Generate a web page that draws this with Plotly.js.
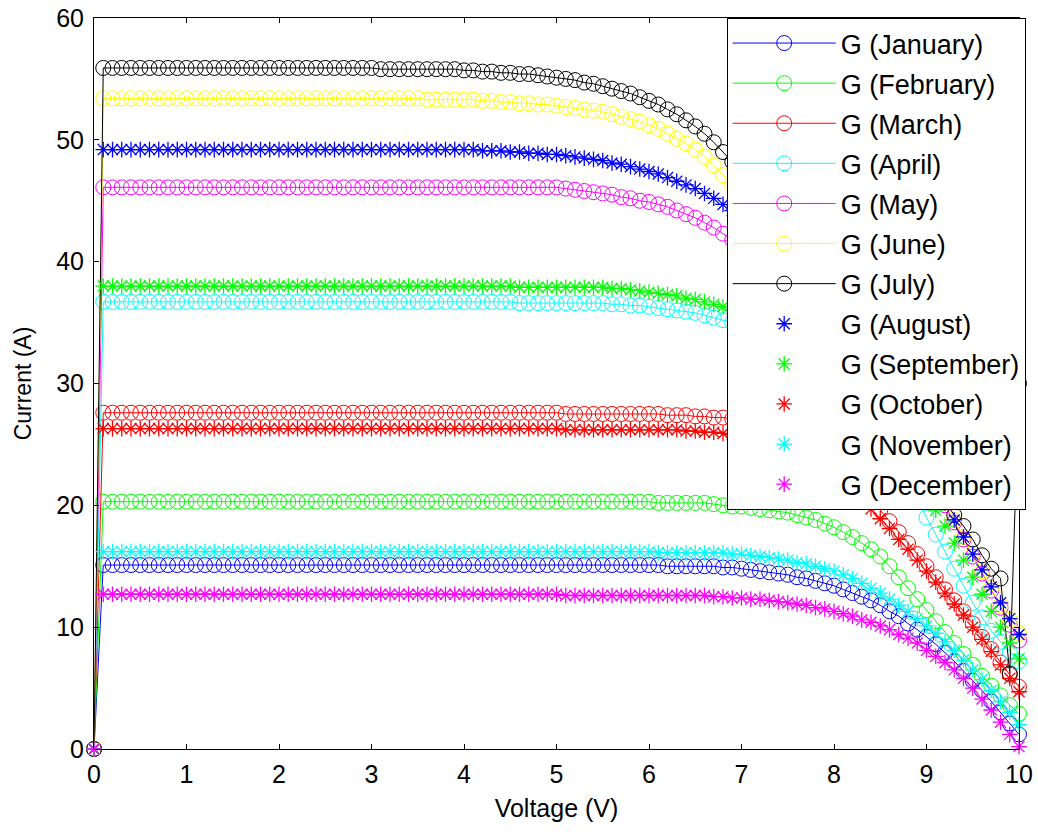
<!DOCTYPE html>
<html>
<head>
<meta charset="utf-8">
<script src="https://cdn.plot.ly/plotly-3.0.1.min.js"></script>
<style>html,body{margin:0;padding:0;background:#fff;}#chart{width:1038px;height:832px;}</style>
</head>
<body>
<div id="chart"></div>
<script>
// Voltage grid (V)
const voltage = [0,
0.1,0.2,0.3,0.4,0.5,0.6,0.7,0.8,0.9,1.0,
1.1,1.2,1.3,1.4,1.5,1.6,1.7,1.8,1.9,2.0,
2.1,2.2,2.3,2.4,2.5,2.6,2.7,2.8,2.9,3.0,
3.1,3.2,3.3,3.4,3.5,3.6,3.7,3.8,3.9,4.0,
4.1,4.2,4.3,4.4,4.5,4.6,4.7,4.8,4.9,5.0,
5.1,5.2,5.3,5.4,5.5,5.6,5.7,5.8,5.9,6.0,
6.1,6.2,6.3,6.4,6.5,6.6,6.7,6.8,6.9,7.0,
7.1,7.2,7.3,7.4,7.5,7.6,7.7,7.8,7.9,8.0,
8.1,8.2,8.3,8.4,8.5,8.6,8.7,8.8,8.9,9.0,
9.1,9.2,9.3,9.4,9.5,9.6,9.7,9.8,9.9,10.0];

// Current (A) per month
const gJanuary = [0,
15.1,15.1,15.1,15.1,15.1,15.1,15.1,15.1,15.1,15.1,
15.1,15.1,15.1,15.1,15.1,15.1,15.1,15.1,15.1,15.1,
15.1,15.1,15.1,15.1,15.1,15.1,15.1,15.1,15.1,15.1,
15.1,15.1,15.1,15.1,15.1,15.1,15.1,15.1,15.1,15.1,
15.1,15.1,15.1,15.1,15.1,15.1,15.1,15.1,15.1,15.1,
15.1,15.1,15.1,15.1,15.1,15.1,15.1,15.1,15.1,15.1,
15.1,15.0,15.0,15.0,15.0,15.0,15.0,14.9,14.9,14.8,
14.7,14.6,14.5,14.4,14.3,14.1,14.0,13.8,13.6,13.4,
13.1,12.8,12.5,12.2,11.8,11.3,10.9,10.3,9.8,9.2,
8.6,7.9,7.2,6.4,5.6,4.8,3.9,3.0,2.1,1.2];

const gFebruary = [0,
20.3,20.3,20.3,20.3,20.3,20.3,20.3,20.3,20.3,20.3,
20.3,20.3,20.3,20.3,20.3,20.3,20.3,20.3,20.3,20.3,
20.3,20.3,20.3,20.3,20.3,20.3,20.3,20.3,20.3,20.3,
20.3,20.3,20.3,20.3,20.3,20.3,20.3,20.3,20.3,20.3,
20.3,20.3,20.3,20.3,20.3,20.3,20.3,20.3,20.3,20.3,
20.3,20.3,20.3,20.3,20.3,20.3,20.3,20.3,20.3,20.3,
20.2,20.2,20.2,20.2,20.2,20.2,20.1,20.0,19.9,19.9,
19.8,19.7,19.6,19.5,19.4,19.2,19.0,18.8,18.5,18.2,
17.8,17.4,16.9,16.4,15.8,15.0,14.1,13.2,12.3,11.4,
10.5,9.6,8.7,7.8,6.9,6.0,5.2,4.4,3.6,2.9];

const gMarch = [0,
27.6,27.6,27.6,27.6,27.6,27.6,27.6,27.6,27.6,27.6,
27.6,27.6,27.6,27.6,27.6,27.6,27.6,27.6,27.6,27.6,
27.6,27.6,27.6,27.6,27.6,27.6,27.6,27.6,27.6,27.6,
27.6,27.6,27.6,27.6,27.6,27.6,27.6,27.6,27.6,27.6,
27.6,27.6,27.6,27.6,27.6,27.6,27.6,27.6,27.6,27.6,
27.5,27.5,27.5,27.5,27.5,27.5,27.5,27.5,27.5,27.5,
27.5,27.4,27.4,27.4,27.3,27.3,27.2,27.2,27.1,27.0,
26.9,26.7,26.5,26.3,26.0,25.7,25.3,24.8,24.3,23.7,
23.0,22.2,21.4,20.5,19.6,18.7,17.8,16.9,16.0,15.0,
14.1,13.1,12.2,11.3,10.3,9.2,8.2,7.1,6.1,5.1];

const gApril = [0,
36.7,36.7,36.7,36.7,36.7,36.7,36.7,36.7,36.7,36.7,
36.7,36.7,36.7,36.7,36.7,36.7,36.7,36.7,36.7,36.7,
36.7,36.7,36.7,36.7,36.7,36.7,36.7,36.7,36.7,36.7,
36.7,36.7,36.7,36.7,36.7,36.7,36.7,36.7,36.7,36.7,
36.7,36.7,36.7,36.7,36.7,36.6,36.6,36.6,36.6,36.6,
36.6,36.6,36.6,36.6,36.6,36.5,36.5,36.4,36.4,36.3,
36.2,36.1,36.0,35.9,35.8,35.6,35.4,35.2,35.0,34.8,
34.5,34.2,33.9,33.5,33.1,32.6,32.1,31.5,30.9,30.2,
29.4,28.6,27.7,26.7,25.6,24.4,23.1,21.8,20.4,19.0,
17.6,16.2,14.8,13.4,12.0,10.8,9.7,8.8,8.0,7.2];

const gMay = [0,
46.1,46.1,46.1,46.1,46.1,46.1,46.1,46.1,46.1,46.1,
46.1,46.1,46.1,46.1,46.1,46.1,46.1,46.1,46.1,46.1,
46.1,46.1,46.1,46.1,46.1,46.1,46.1,46.1,46.1,46.1,
46.1,46.1,46.1,46.1,46.1,46.1,46.1,46.1,46.1,46.1,
46.1,46.1,46.1,46.1,46.1,46.1,46.1,46.1,46.1,46.1,
46.0,45.9,45.8,45.7,45.6,45.5,45.3,45.2,45.0,44.9,
44.7,44.5,44.2,43.9,43.6,43.2,42.8,42.3,41.8,41.2,
40.6,40.0,39.3,38.6,37.9,37.1,36.3,35.5,34.6,33.7,
32.8,31.8,30.8,29.8,28.7,27.6,26.4,25.2,24.0,22.7,
21.4,20.0,18.6,17.2,15.8,14.4,13.0,11.6,10.2,8.9];

const gJune = [0,
53.4,53.4,53.4,53.4,53.4,53.4,53.4,53.4,53.4,53.4,
53.4,53.4,53.4,53.4,53.4,53.4,53.4,53.4,53.4,53.4,
53.4,53.4,53.4,53.4,53.4,53.4,53.4,53.4,53.4,53.4,
53.4,53.4,53.4,53.4,53.4,53.3,53.3,53.3,53.3,53.3,
53.3,53.2,53.2,53.1,53.1,53.0,53.0,52.9,52.9,52.8,
52.7,52.6,52.5,52.4,52.3,52.1,51.9,51.7,51.5,51.2,
50.9,50.5,50.1,49.7,49.2,48.6,47.9,47.1,46.4,45.6,
44.8,43.9,43.0,42.1,41.1,40.1,39.1,38.0,36.9,35.8,
34.6,33.4,32.2,31.0,29.7,28.4,27.1,25.8,24.4,23.0,
21.6,20.2,18.8,17.4,16.0,14.6,13.2,11.8,10.6,9.5];

const gJuly = [0,
55.9,55.9,55.9,55.9,55.9,55.9,55.9,55.9,55.9,55.9,
55.9,55.9,55.9,55.9,55.9,55.9,55.9,55.9,55.9,55.9,
55.9,55.9,55.9,55.9,55.9,55.9,55.9,55.9,55.9,55.9,
55.8,55.8,55.8,55.8,55.8,55.8,55.8,55.8,55.8,55.7,
55.7,55.6,55.6,55.5,55.5,55.4,55.4,55.3,55.2,55.1,
55.0,54.9,54.7,54.6,54.4,54.2,54.0,53.8,53.5,53.2,
52.9,52.5,52.1,51.6,51.1,50.5,49.8,49.0,48.2,47.3,
46.4,45.4,44.4,43.4,42.3,41.2,40.1,38.9,37.7,36.5,
35.3,34.0,32.7,31.4,30.1,28.7,27.3,25.9,24.5,23.1,
21.7,20.3,19.2,18.3,17.2,15.9,14.8,14.0,6.2,30.0];

const gAugust = [0,
49.2,49.2,49.2,49.2,49.2,49.2,49.2,49.2,49.2,49.2,
49.2,49.2,49.2,49.2,49.2,49.2,49.2,49.2,49.2,49.2,
49.2,49.2,49.2,49.2,49.2,49.2,49.2,49.2,49.2,49.2,
49.2,49.2,49.2,49.2,49.2,49.2,49.2,49.2,49.2,49.2,
49.2,49.1,49.1,49.1,49.0,49.0,48.9,48.9,48.8,48.8,
48.7,48.6,48.5,48.4,48.3,48.1,48.0,47.8,47.6,47.4,
47.2,46.9,46.6,46.3,46.0,45.6,45.2,44.7,44.2,43.6,
43.0,42.3,41.6,40.8,40.0,39.2,38.3,37.4,36.4,35.4,
34.3,33.2,32.1,30.9,29.7,28.4,27.1,25.8,24.4,23.0,
21.6,20.2,18.8,17.4,16.0,14.7,13.3,12.0,10.7,9.4];

const gSeptember = [0,
38.0,38.0,38.0,38.0,38.0,38.0,38.0,38.0,38.0,38.0,
38.0,38.0,38.0,38.0,38.0,38.0,38.0,38.0,38.0,38.0,
38.0,38.0,38.0,38.0,38.0,38.0,38.0,38.0,38.0,38.0,
38.0,38.0,38.0,38.0,38.0,38.0,38.0,38.0,38.0,38.0,
38.0,38.0,38.0,38.0,38.0,37.9,37.9,37.9,37.9,37.9,
37.9,37.9,37.9,37.9,37.9,37.8,37.8,37.7,37.6,37.5,
37.4,37.3,37.2,37.0,36.9,36.7,36.5,36.3,36.0,35.8,
35.5,35.2,34.8,34.4,34.0,33.5,33.0,32.4,31.8,31.1,
30.4,29.6,28.7,27.8,26.8,25.7,24.6,23.4,22.2,20.9,
19.6,18.3,16.9,15.5,14.1,12.7,11.3,10.0,8.7,7.4];

const gOctober = [0,
26.3,26.3,26.3,26.3,26.3,26.3,26.3,26.3,26.3,26.3,
26.3,26.3,26.3,26.3,26.3,26.3,26.3,26.3,26.3,26.3,
26.3,26.3,26.3,26.3,26.3,26.3,26.3,26.3,26.3,26.3,
26.3,26.3,26.3,26.3,26.3,26.3,26.3,26.3,26.3,26.3,
26.3,26.3,26.3,26.3,26.3,26.3,26.3,26.3,26.3,26.3,
26.2,26.2,26.2,26.2,26.2,26.2,26.2,26.2,26.2,26.2,
26.2,26.2,26.2,26.1,26.1,26.0,26.0,25.9,25.8,25.7,
25.5,25.4,25.2,24.9,24.7,24.3,23.9,23.5,23.0,22.5,
21.8,21.2,20.5,19.7,18.9,18.1,17.2,16.4,15.5,14.6,
13.7,12.8,11.9,11.0,10.0,9.0,8.0,6.9,5.8,4.7];

const gNovember = [0,
16.2,16.2,16.2,16.2,16.2,16.2,16.2,16.2,16.2,16.2,
16.2,16.2,16.2,16.2,16.2,16.2,16.2,16.2,16.2,16.2,
16.2,16.2,16.2,16.2,16.2,16.2,16.2,16.2,16.2,16.2,
16.2,16.2,16.2,16.2,16.2,16.2,16.2,16.2,16.2,16.2,
16.2,16.2,16.2,16.2,16.2,16.2,16.2,16.2,16.2,16.2,
16.2,16.2,16.2,16.2,16.2,16.2,16.2,16.2,16.2,16.2,
16.1,16.1,16.1,16.1,16.1,16.1,16.1,16.1,16.0,16.0,
15.9,15.8,15.7,15.6,15.5,15.3,15.2,15.0,14.8,14.6,
14.3,14.0,13.6,13.2,12.8,12.3,11.8,11.3,10.7,10.1,
9.5,8.8,8.1,7.3,6.5,5.7,4.8,3.9,3.0,2.0];

const gDecember = [0,
12.7,12.7,12.7,12.7,12.7,12.7,12.7,12.7,12.7,12.7,
12.7,12.7,12.7,12.7,12.7,12.7,12.7,12.7,12.7,12.7,
12.7,12.7,12.7,12.7,12.7,12.7,12.7,12.7,12.7,12.7,
12.7,12.7,12.7,12.7,12.7,12.7,12.7,12.7,12.7,12.7,
12.7,12.7,12.7,12.7,12.7,12.7,12.7,12.7,12.7,12.7,
12.6,12.6,12.6,12.6,12.6,12.6,12.6,12.6,12.6,12.6,
12.6,12.6,12.6,12.6,12.6,12.6,12.5,12.5,12.4,12.4,
12.3,12.3,12.2,12.1,12.0,11.9,11.8,11.6,11.5,11.3,
11.1,10.9,10.6,10.4,10.1,9.8,9.4,9.1,8.7,8.1,
7.6,7.1,6.5,5.8,5.0,4.1,3.2,2.2,1.2,0.2];

const seriesNames = ['G (January)','G (February)','G (March)','G (April)','G (May)','G (June)','G (July)',
  'G (August)','G (September)','G (October)','G (November)','G (December)'];
const seriesValues = [gJanuary,gFebruary,gMarch,gApril,gMay,gJune,gJuly,
  gAugust,gSeptember,gOctober,gNovember,gDecember];
const seriesColors = ['#0000FF','#00FF00','#FF0000','#00FFFF','#FF00FF','#FFFF00','#000000',
  '#0000FF','#00FF00','#FF0000','#00FFFF','#FF00FF'];
const xTicks = [0,1,2,3,4,5,6,7,8,9,10];
const yTicks = [0,10,20,30,40,50,60];

const FONT = 'Liberation Sans, Arial, Helvetica, sans-serif';

const traces = seriesNames.map((name, i) => {
  const circle = i < 7;
  return {
    type: 'scatter',
    x: voltage,
    y: seriesValues[i],
    name: name,
    legendgroup: 'g' + i,
    mode: circle ? 'lines+markers' : 'markers',
    cliponaxis: false,
    line: {color: seriesColors[i], width: 1},
    marker: circle
      ? {symbol: 'circle-open', size: 15, color: seriesColors[i], line: {width: 1, color: seriesColors[i]}}
      : {symbol: 'asterisk-open', size: 13, color: seriesColors[i], line: {width: 1.3, color: seriesColors[i]}}
  };
});

const axisCommon = {
  showgrid: false, zeroline: false, showline: true, linecolor: '#000', linewidth: 1,
  mirror: 'allticks', ticks: 'inside', ticklen: 5, tickwidth: 1, tickcolor: '#000',
  tickfont: {family: FONT, size: 25, color: '#000'}
};

const layout = {
  width: 1038, height: 832,
  paper_bgcolor: '#fff', plot_bgcolor: '#fff',
  margin: {l: 94, r: 17, t: 18, b: 83},
  font: {family: FONT, color: '#000'},
  xaxis: Object.assign({}, axisCommon, {
    range: [0, 10], tickvals: xTicks, ticktext: xTicks.map(String), ticklabelstandoff: 3,
    title: {text: 'Voltage (V)', font: {family: FONT, size: 25, color: '#000'}, standoff: 12}
  }),
  yaxis: Object.assign({}, axisCommon, {
    range: [0, 60], tickvals: yTicks, ticktext: yTicks.map(String), ticklabelstandoff: 4,
    title: {text: 'Current (A)', font: {family: FONT, size: 23, color: '#000'}, standoff: 18}
  }),
  showlegend: true,
  legend: {
    x: 0.684, y: 1, xanchor: 'left', yanchor: 'top',
    bgcolor: '#fff', bordercolor: '#000', borderwidth: 1,
    font: {family: FONT, size: 27, color: '#000'},
    traceorder: 'grouped', tracegroupgap: 2, itemwidth: 103
  }
};

Plotly.newPlot('chart', traces, layout, {staticPlot: true, displayModeBar: false});
</script>
</body>
</html>
